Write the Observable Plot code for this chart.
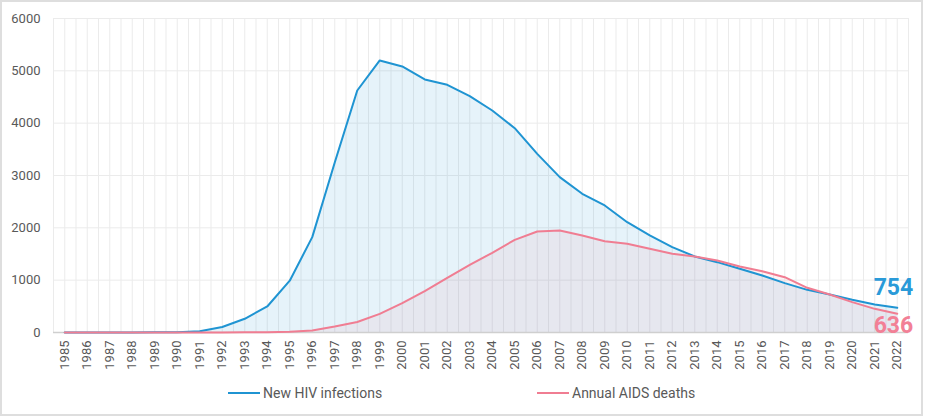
<!DOCTYPE html>
<html>
<head>
<meta charset="utf-8">
<script src="https://cdn.jsdelivr.net/npm/d3@7"></script>
<script src="https://cdn.jsdelivr.net/npm/@observablehq/plot@0.6"></script>
<style>
  html, body { margin: 0; padding: 0; background: #fff; }
  #wrap { position: relative; width: 925px; height: 417px; font-family: Roboto, sans-serif; }
  #frame { position: absolute; left: 0; top: 0; width: 923px; height: 416px; box-sizing: border-box; border: 2px solid #dedede; pointer-events: none; }
  #chart { position: absolute; left: 0; top: 0; }
  .leg { position: absolute; top: 384px; height: 18px; display: flex; align-items: center; font-size: 14px; color: #595959; }
  .leg .sw { width: 32px; height: 2px; margin-right: 3px; }
</style>
</head>
<body>
<div id="wrap">
  <div id="chart"></div>
  <div class="leg" style="left:228px"><span class="sw" style="background:#1f94d2"></span><span>New HIV infections</span></div>
  <div class="leg" style="left:537px"><span class="sw" style="background:#f07d92"></span><span>Annual AIDS deaths</span></div>
  <div id="frame"></div>
</div>
<script>
const years = [1985,1986,1987,1988,1989,1990,1991,1992,1993,1994,1995,1996,1997,1998,1999,2000,2001,2002,2003,2004,2005,2006,2007,2008,2009,2010,2011,2012,2013,2014,2015,2016,2017,2018,2019,2020,2021,2022];
const newInfections = [2,2,2,2,3,5,25,105,262,497,990,1822,3250,4624,5198,5083,4835,4733,4515,4242,3904,3414,2968,2650,2427,2108,1854,1631,1453,1344,1217,1090,943,815,726,624,535,472];
const aidsDeaths = [0,0,0,0,0,1,1,2,3,5,12,40,115,200,357,560,790,1045,1290,1523,1771,1930,1949,1854,1745,1695,1600,1503,1453,1376,1261,1172,1057,854,726,580,452,357];
const yTicks = [0,1000,2000,3000,4000,5000,6000];
const endLabels = ["754","636"];
const seriesNames = ["New HIV infections","Annual AIDS deaths"];

const blue = "#1f94d2", pink = "#f07d92";
const data = years.map((y, i) => ({year: y, hiv: newInfections[i], deaths: aidsDeaths[i]}));
const last = data[data.length - 1];
const curve = "linear";

const chart = Plot.plot({
  width: 925,
  height: 375,
  marginLeft: 53,
  marginRight: 17,
  marginTop: 18,
  marginBottom: 43,
  style: {fontFamily: "Roboto, sans-serif", fontSize: "13px", color: "#595959", background: "transparent", overflow: "visible"},
  x: {domain: [1984.5, 2022.5], ticks: years, tickFormat: d => String(d), tickRotate: -90, tickSize: 0, tickPadding: 8, label: null},
  y: {domain: [0, 6000], ticks: yTicks, tickFormat: d => String(d), tickSize: 0, tickPadding: 13, label: null},
  marks: [
    Plot.ruleX(d3.range(1984.5, 2022.75, 0.5), {stroke: "#ebebeb", strokeWidth: 1}),
    Plot.ruleY(yTicks, {stroke: "#ebebeb", strokeWidth: 1}),
    Plot.areaY(data, {x: "year", y: "hiv", fill: blue, fillOpacity: 0.11, curve}),
    Plot.areaY(data, {x: "year", y: "deaths", fill: pink, fillOpacity: 0.1, curve}),
    Plot.ruleY([0], {stroke: "#cfcfcf", strokeWidth: 1.5}),
    Plot.lineY(data, {x: "year", y: "hiv", stroke: blue, strokeWidth: 2, curve}),
    Plot.lineY(data, {x: "year", y: "deaths", stroke: pink, strokeWidth: 2, curve}),
    Plot.text([last], {x: "year", y: "hiv", text: () => endLabels[0], dx: 16, dy: -20, textAnchor: "end", fill: "#2a9ad8", fontSize: 23, fontWeight: "bold", fontFamily: "Roboto, sans-serif"}),
    Plot.text([last], {x: "year", y: "deaths", text: () => endLabels[1], dx: 16, dy: 12, textAnchor: "end", fill: "#f28096", fontSize: 23, fontWeight: "bold", fontFamily: "Roboto, sans-serif"})
  ]
});
document.getElementById("chart").appendChild(chart);
</script>
</body>
</html>
